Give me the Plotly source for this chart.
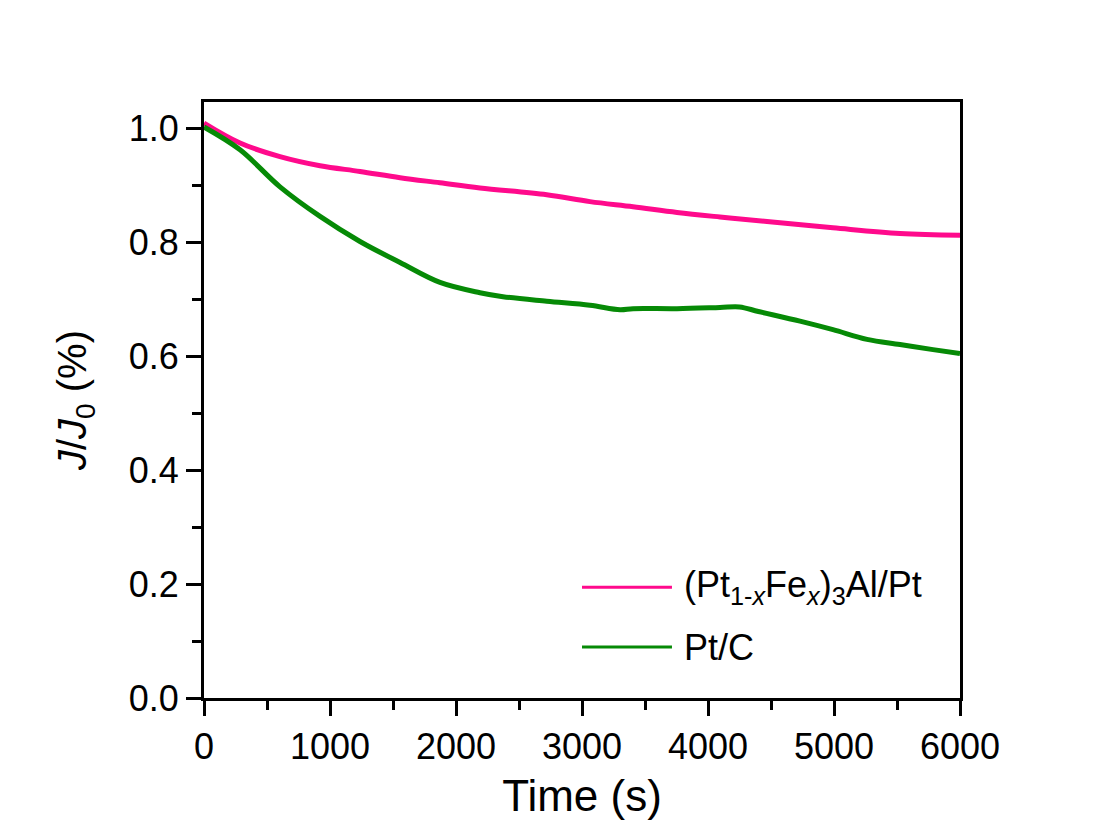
import plotly.graph_objects as go

# Time (s)
t_ptfeal = [0, 286, 603, 921, 1238, 1556, 1873, 2190, 2720, 3063, 3405, 3754, 4095, 4468, 4992, 5524, 6000]
j_ptfeal = [1.010, 0.975, 0.951, 0.935, 0.925, 0.914, 0.905, 0.896, 0.884, 0.872, 0.863, 0.853, 0.845, 0.837, 0.826, 0.816, 0.813]

t_ptc = [0, 286, 603, 921, 1238, 1556, 1873, 2190, 2373, 2720, 3063, 3302, 3405, 3754, 4095, 4250, 4400, 4730, 4992, 5262, 5524, 5786, 6000]
j_ptc = [1.003, 0.963, 0.898, 0.846, 0.802, 0.765, 0.730, 0.712, 0.705, 0.697, 0.690, 0.682, 0.684, 0.684, 0.686, 0.687, 0.679, 0.662, 0.647, 0.630, 0.621, 0.612, 0.605]

x_ticks = [0, 1000, 2000, 3000, 4000, 5000, 6000]
y_ticks = [0.0, 0.2, 0.4, 0.6, 0.8, 1.0]

series_names = ["(Pt<sub>1-<i>x</i></sub>Fe<sub><i>x</i></sub>)<sub>3</sub>Al/Pt", "Pt/C"]
series_colors = ["#FF0A8C", "#068A06"]

FONT = "Liberation Sans, Arial, sans-serif"

fig = go.Figure()
for tx, jy, nm, col in [(t_ptfeal, j_ptfeal, series_names[0], series_colors[0]),
                        (t_ptc, j_ptc, series_names[1], series_colors[1])]:
    fig.add_trace(go.Scatter(x=tx, y=jy, mode="lines", name=nm,
                             line=dict(color=col, width=5, shape="spline")))

axis_common = dict(
    showline=True, linecolor="black", linewidth=3, mirror=True,
    ticks="outside", ticklen=15, tickwidth=3, tickcolor="black",
    showgrid=False, zeroline=False,
    tickfont=dict(family=FONT, size=36, color="black"),
)

fig.update_xaxes(
    range=[0, 6000], tickvals=x_ticks, ticktext=[str(v) for v in x_ticks],
    minor=dict(ticks="outside", ticklen=9, tickwidth=3, tickcolor="black", dtick=500, showgrid=False),
    title=dict(text="Time (s)", font=dict(family=FONT, size=44, color="black"), standoff=14),
    **axis_common)
fig.update_yaxes(
    range=[0, 1.047], tickvals=y_ticks, ticktext=[f"{v:.1f}" for v in y_ticks],
    minor=dict(ticks="outside", ticklen=9, tickwidth=3, tickcolor="black", dtick=0.1, showgrid=False),
    title=dict(text="<i>J</i>/<i>J</i><sub>0</sub> (%)", font=dict(family=FONT, size=40, color="black"), standoff=30),
    **axis_common)

# custom legend (long line samples like the reference)
legend_y = [0.186, 0.0854]
for i in range(2):
    fig.add_shape(type="line", xref="x domain", yref="y domain",
                  x0=0.50, x1=0.619, y0=legend_y[i], y1=legend_y[i],
                  line=dict(color=series_colors[i], width=3))
    fig.add_annotation(xref="x domain", yref="y domain", x=0.632, y=legend_y[i],
                       xanchor="left", yanchor="middle", showarrow=False,
                       text=series_names[i], font=dict(family=FONT, size=36, color="black"))

fig.update_layout(
    width=1100, height=829,
    margin=dict(l=196, r=148, t=94, b=139),
    paper_bgcolor="white", plot_bgcolor="white",
    font=dict(family=FONT, size=34, color="black"),
    showlegend=False,
)

fig.write_html("out.html")
